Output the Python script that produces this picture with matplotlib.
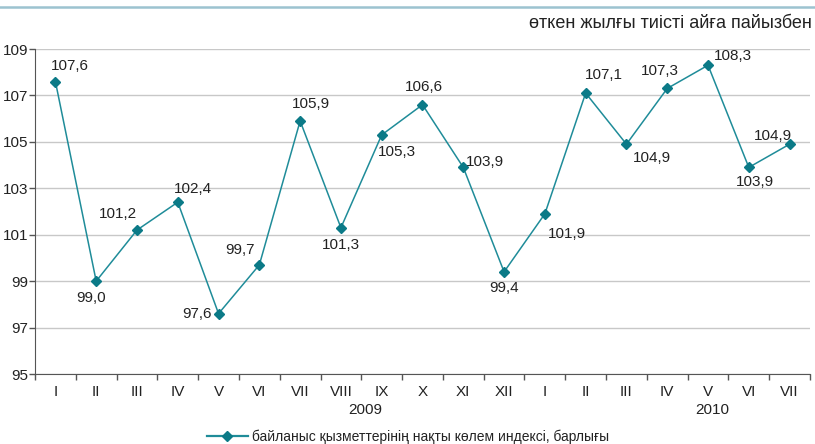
import matplotlib.pyplot as plt
from matplotlib.lines import Line2D

plt.rcParams['font.family'] = ['Liberation Sans', 'DejaVu Sans']

# Данные
months = ["I", "II", "III", "IV", "V", "VI", "VII", "VIII", "IX", "X", "XI", "XII",
          "I", "II", "III", "IV", "V", "VI", "VII"]
values = [107.6, 99.0, 101.2, 102.4, 97.6, 99.7, 105.9, 101.3, 105.3, 106.6, 103.9, 99.4,
          101.9, 107.1, 104.9, 107.3, 108.3, 103.9, 104.9]
years = ["2009", "2010"]
series_name = "байланыс қызметтерінің нақты көлем индексі, барлығы"
unit_title = "өткен жылғы тиісті айға пайызбен"

# смещения подписей (в пикселях)
label_offsets = [(14, 16), (-5, -17), (-19, 16), (15, 13), (-22, 0), (-19, 15), (11, 17),
                 (0, -17), (15, -17), (1, 18), (22, 5), (0, -16), (22, -20), (18, 18),
                 (25, -14), (-7, 17), (25, 9), (6, -15), (-17, 8)]

line_color = "#1f8c99"
marker_color = "#0b7a87"
text_color = "#222222"

fig = plt.figure(figsize=(8.15, 4.44), dpi=100)
ax = fig.add_axes([35 / 815, 70 / 444, 775 / 815, 325 / 444])

x = list(range(len(values)))
ax.plot(x, values, color=line_color, lw=1.1, marker="D", ms=5.5,
        markerfacecolor=marker_color, markeredgecolor=marker_color, zorder=3)

for xi, v, (dx, dy) in zip(x, values, label_offsets):
    ax.annotate(f"{v:.1f}".replace(".", ","), (xi, v), xytext=(dx * 0.72, dy * 0.72),
                textcoords="offset points", ha="center", va="center",
                fontsize=11, color=text_color)

ax.set_xlim(-0.5, len(values) - 0.5)
ax.set_ylim(95, 109)
ax.set_yticks(range(95, 110, 2))
ax.set_yticklabels([str(t) for t in range(95, 110, 2)], fontsize=11, color=text_color)
ax.yaxis.grid(True, color="#c8c8c8", lw=1)
ax.set_axisbelow(True)

ax.set_xticks([i - 0.5 for i in range(len(values) + 1)])
ax.set_xticklabels([])
ax.tick_params(axis="both", direction="out", length=4, color="#555555", width=1)
ax.tick_params(axis="y", pad=1)
for i, m in enumerate(months):
    ax.text(i, -0.055, m, transform=ax.get_xaxis_transform(), ha="center", va="center",
            fontsize=11, color=text_color)
ax.text(7.6, -0.11, years[0], transform=ax.get_xaxis_transform(), ha="center",
        va="center", fontsize=11, color=text_color)
ax.text(16.1, -0.11, years[1], transform=ax.get_xaxis_transform(), ha="center",
        va="center", fontsize=11, color=text_color)

for s in ["top", "right"]:
    ax.spines[s].set_visible(False)
for s in ["left", "bottom"]:
    ax.spines[s].set_color("#555555")

# верхняя линия и заголовок единиц
fig.add_artist(Line2D([0, 1], [1 - 7 / 444, 1 - 7 / 444], color="#9cc3d0", lw=1.8))
fig.text(812 / 815, 1 - 23 / 444, unit_title, ha="right", va="center",
         fontsize=13, color=text_color)

# легенда
handle = Line2D([], [], color=line_color, lw=1.6, marker="D", ms=5.5,
                markerfacecolor=marker_color, markeredgecolor=marker_color)
fig.legend([handle], [series_name], loc="center", bbox_to_anchor=(408 / 815, 1 - 437 / 444),
           frameon=False, fontsize=10, handlelength=3, handletextpad=0.3,
           labelcolor=text_color)

fig.savefig("out.png", dpi=100)
